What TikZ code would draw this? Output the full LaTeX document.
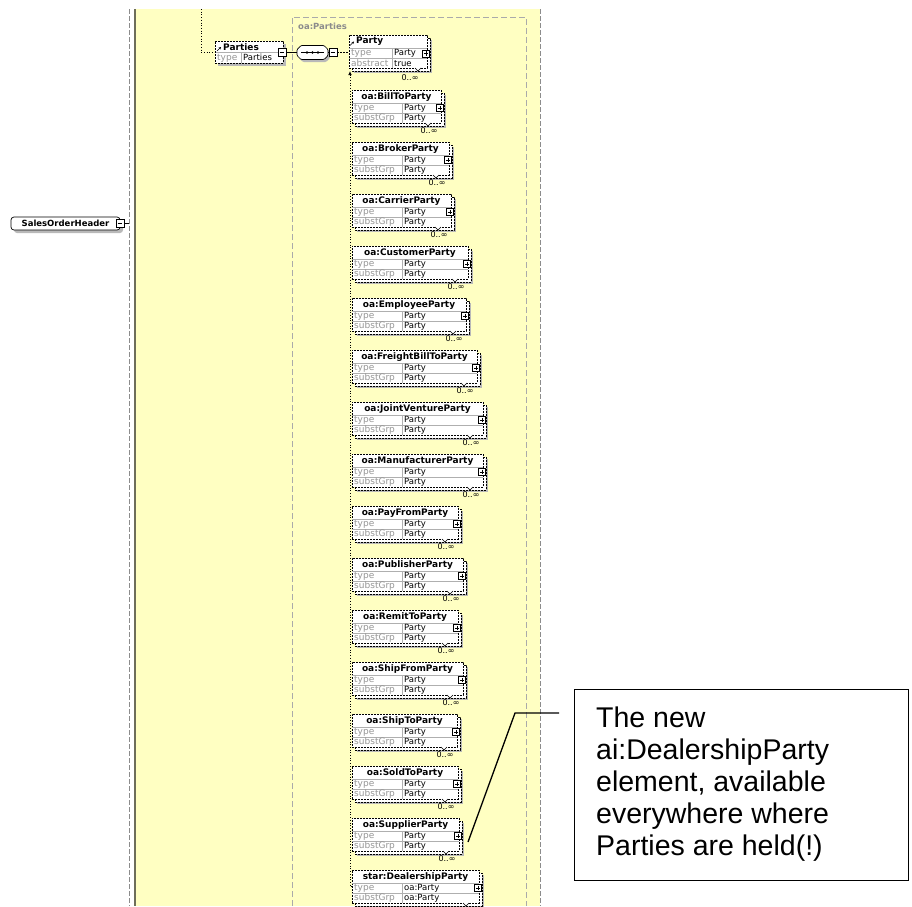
\documentclass[tikz,border=0pt]{standalone}
\usepackage{fontspec}
\usetikzlibrary{arrows.meta}
\newfontfamily\xsd{DejaVu Sans}
\newfontfamily\callfont{Liberation Sans}
\definecolor{ybg}{RGB}{255,255,194}
\definecolor{shgrey}{RGB}{185,185,185}
\definecolor{rowgrey}{RGB}{175,175,175}
\definecolor{labgrey}{RGB}{150,150,150}
\definecolor{grpgrey}{RGB}{170,170,170}
\definecolor{bordergrey}{RGB}{140,140,140}
\definecolor{olivedark}{RGB}{110,110,90}
\tikzset{
  boxborder/.style={draw=black, line width=0.7pt, dash pattern=on 2pt off 1pt},
  elembox/.style={boxborder, fill=white, inner sep=0pt, outer sep=0pt, anchor=north west},
  globbox/.style={draw=black, line width=0.7pt, fill=white, rounded corners=3pt, inner sep=0pt, outer sep=0pt,
    font=\xsd\bfseries\fontsize{8.5}{10}\selectfont},
  rowsep/.style={draw=rowgrey, line width=0.6pt},
  labtxt/.style={font=\xsd\fontsize{9}{10}\selectfont, text=labgrey, inner sep=0pt, anchor=west},
  valtxt/.style={font=\xsd\fontsize{8.5}{10}\selectfont, text=black, inner sep=0pt, anchor=west},
  titletxt/.style={font=\xsd\bfseries\fontsize{9}{10}\selectfont, inner sep=0pt},
  occtxt/.style={font=\xsd\fontsize{8}{9}\selectfont, inner sep=0pt},
  grplabel/.style={font=\xsd\bfseries\fontsize{8.5}{10}\selectfont, text=bordergrey, inner sep=0pt},
  grpline/.style={draw=grpgrey, line width=0.9pt, dash pattern=on 6pt off 3pt},
  borderdash/.style={draw=bordergrey, line width=0.9pt, dash pattern=on 5pt off 2pt},
  spine/.style={draw=black, line width=0.7pt, dotted},
  optline/.style={draw=black, line width=0.7pt, dash pattern=on 2pt off 1pt},
  callline/.style={draw=black, line width=1.3pt},
  calltxt/.style={font=\callfont\fontsize{28.5}{32}\selectfont, inner sep=0pt},
  minusbox/.style={draw=black, line width=0.5pt, fill=white, minimum size=8pt, inner sep=0pt,
    path picture={\draw[line width=0.6pt] ([xshift=1.6pt]path picture bounding box.west) -- ([xshift=-1.6pt]path picture bounding box.east);}},
  plusbox/.style={draw=black, line width=0.5pt, fill=white, minimum size=7pt, inner sep=0pt,
    path picture={\draw[line width=0.6pt] ([xshift=1.3pt]path picture bounding box.west) -- ([xshift=-1.3pt]path picture bounding box.east)
      ([yshift=-1.3pt]path picture bounding box.north) -- ([yshift=1.3pt]path picture bounding box.south);}},
}
\newcommand\refarrow[2]{\draw[-{Stealth[length=2.4pt,width=2.4pt]}, line width=0.6pt] (#1,#2) -- (#1+4,#2-4);}
% #1 name, #2 top, #3 right, #4 title, #5 type, #6 substGrp, #7 occurrence label
\newcommand\xsdelem[7]{%
  \pgfmathsetmacro\eT{#2}%
  \pgfmathsetmacro\eR{#3}%
  \pgfmathsetmacro\eB{#2+33}%
  \pgfmathsetmacro\eW{#3-352}%
  \fill[shgrey] (357,\eT+5) rectangle (\eR+5,\eB+5);
  \draw[boxborder, fill=white] (355,\eT+3) rectangle (\eR+3,\eB+3);
  \node[elembox, minimum width=\eW pt, minimum height=33pt] (#1) at (352,\eT) {};
  \draw[rowsep] (352,\eT+13) -- (\eR,\eT+13) (352,\eT+23) -- (\eR,\eT+23) (402,\eT+13) -- (402,\eB);
  \node[titletxt] (#1-title) at ({(352+\eR)/2},\eT+6.8) {#4};
  \node[labtxt] (#1-k1) at (354,\eT+18.2) {type};
  \node[valtxt] (#1-v1) at (404,\eT+18.2) {#5};
  \node[labtxt] (#1-k2) at (354,\eT+28.2) {substGrp};
  \node[valtxt] (#1-v2) at (404,\eT+28.2) {#6};
  \node[plusbox] (#1-plus) at (\eR-1,\eT+18) {};
  \draw[black, line width=0.6pt, fill=white] (\eR-16,\eB) -- (\eR-13,\eB+3) -- (\eR-10,\eB);
  \node[occtxt] (#1-occ) at (\eR-12,\eT+41) {#7};
}
\begin{document}
\begin{tikzpicture}[x=1pt,y=-1pt]
\useasboundingbox (0,0) rectangle (912,906);
\fill[white] (0,0) rectangle (912,906);
% frame of the complex type
\fill[ybg] (136,9) rectangle (540,906);
\draw[borderdash] (129,9) -- (129,906);
\draw[draw=olivedark, line width=1.2pt] (135,9) -- (135,906);
\draw[borderdash] (540,9) -- (540,906);
% group oa:Parties
\draw[grpline] (292,906) -- (292,17) -- (526,17) -- (526,906);
\node[grplabel, anchor=west] (grplab) at (298,26) {oa:Parties};

% SalesOrderHeader
\fill[shgrey, rounded corners=3pt] (14,220) rectangle (123,233);
\node[globbox, minimum width=109pt, minimum height=13pt, anchor=north west] (soh) at (11,217) {SalesOrderHeader};
\node[minusbox] (sohm) at (120,223.5) {};
\coordinate (lb) at (129,223.5);
\draw[line width=0.7pt] (sohm.east) -- (lb);

% Parties element
\fill[shgrey] (218,44) rectangle (286,66);
\node[elembox, minimum width=68pt, minimum height=22pt] (parties) at (215,41) {};
\draw[rowsep] (215,52) -- (283,52) (241,52) -- (241,63);
\node[titletxt, anchor=west] (parties-title) at (223,46.8) {Parties};
\refarrow{217}{51}
\node[labtxt] (parties-k) at (217,57.8) {type};
\node[valtxt] (parties-v) at (243,57.8) {Parties};
\node[minusbox] (partiesm) at (282,52.5) {};
\coordinate (topin) at (201,9);
\draw[spine] (topin) |- (parties.west);

% sequence compositor
\node[inner sep=0pt, minimum width=31pt, minimum height=14pt] (seq) at (312.5,52.5) {};
\fill[shgrey, rounded corners=1pt] (303,48) -- (326,48) -- (330,52) -- (330,58) -- (326,62) -- (303,62) -- (299,58) -- (299,52) -- cycle;
\draw[fill=white, line width=0.7pt, rounded corners=1pt] (301,45.5) -- (324,45.5) -- (328,49.5) -- (328,55.5) -- (324,59.5) -- (301,59.5) -- (297,55.5) -- (297,49.5) -- cycle;
\draw[line width=0.6pt] (301,52.5) -- (324,52.5);
\fill (307,52.5) circle[radius=1.3pt] (312.5,52.5) circle[radius=1.3pt] (318,52.5) circle[radius=1.3pt];
\node[minusbox] (seqm) at (333,52.5) {};
\draw[line width=0.7pt] (partiesm.east) -- (seq.west);
\draw[line width=0.7pt] (seq.east) -- (seqm.west);

% Party (abstract head)
\fill[shgrey] (354,40) rectangle (432,73);
\draw[boxborder, fill=white] (352,38) rectangle (430,71);
\node[elembox, minimum width=78pt, minimum height=33pt] (party) at (349,35) {};
\draw[rowsep] (349,48) -- (427,48) (349,58.5) -- (427,58.5) (392,48) -- (392,68);
\node[titletxt, anchor=west] (party-title) at (356,41.5) {Party};
\refarrow{350}{45.5}
\node[labtxt] (party-k1) at (351,53.3) {type};
\node[valtxt] (party-v1) at (394,53.3) {Party};
\node[labtxt] (party-k2) at (351,63.6) {abstract};
\node[valtxt] (party-v2) at (394,63.6) {true};
\node[plusbox] (party-plus) at (426,53.3) {};
\draw[black, line width=0.6pt, fill=white] (415,68) -- (418,71) -- (421,68);
\node[occtxt] (party-occ) at (410,77.5) {0..∞};
\draw[optline] (seqm.east) -- (seqm.east -| party.west);

% substitution group members
\xsdelem{e1}{90}{441}{oa:BillToParty}{Party}{Party}{0..∞}
\xsdelem{e2}{142}{449}{oa:BrokerParty}{Party}{Party}{0..∞}
\xsdelem{e3}{194}{451}{oa:CarrierParty}{Party}{Party}{0..∞}
\xsdelem{e4}{246}{468}{oa:CustomerParty}{Party}{Party}{0..∞}
\xsdelem{e5}{298}{466}{oa:EmployeeParty}{Party}{Party}{0..∞}
\xsdelem{e6}{350}{477}{oa:FreightBillToParty}{Party}{Party}{0..∞}
\xsdelem{e7}{402}{483}{oa:JointVentureParty}{Party}{Party}{0..∞}
\xsdelem{e8}{454}{483}{oa:ManufacturerParty}{Party}{Party}{0..∞}
\xsdelem{e9}{506}{458}{oa:PayFromParty}{Party}{Party}{0..∞}
\xsdelem{e10}{558}{463}{oa:PublisherParty}{Party}{Party}{0..∞}
\xsdelem{e11}{610}{458}{oa:RemitToParty}{Party}{Party}{0..∞}
\xsdelem{e12}{662}{463}{oa:ShipFromParty}{Party}{Party}{0..∞}
\xsdelem{e13}{714}{457}{oa:ShipToParty}{Party}{Party}{0..∞}
\xsdelem{e14}{766}{458}{oa:SoldToParty}{Party}{Party}{0..∞}
\xsdelem{e15}{818}{459}{oa:SupplierParty}{Party}{Party}{0..∞}
\xsdelem{e16}{870}{479}{star:DealershipParty}{oa:Party}{oa:Party}{}

% spine
\coordinate (spinetop) at (350,71);
\draw[spine, {Latex[length=4pt,width=3.5pt]}-] (spinetop) |- (e16.west);

% callout
\coordinate (leadA) at (559,713);
\coordinate (leadB) at (515,713);
\coordinate (leadC) at (468,842);
\draw[callline] (leadA) -- (leadB) -- (leadC);
\node[draw=black, line width=1.3pt, fill=white, minimum width=334pt, minimum height=191pt, anchor=north west, inner sep=0pt] (callout) at (574,689) {};
\node[calltxt, anchor=base west] (c1) at (596,727) {The new};
\node[calltxt, anchor=base west] (c2) at (596,759) {ai:DealershipParty};
\node[calltxt, anchor=base west] (c3) at (596,791) {element, available};
\node[calltxt, anchor=base west] (c4) at (596,823) {everywhere where};
\node[calltxt, anchor=base west] (c5) at (596,855) {Parties are held(!)};
\end{tikzpicture}
\end{document}
